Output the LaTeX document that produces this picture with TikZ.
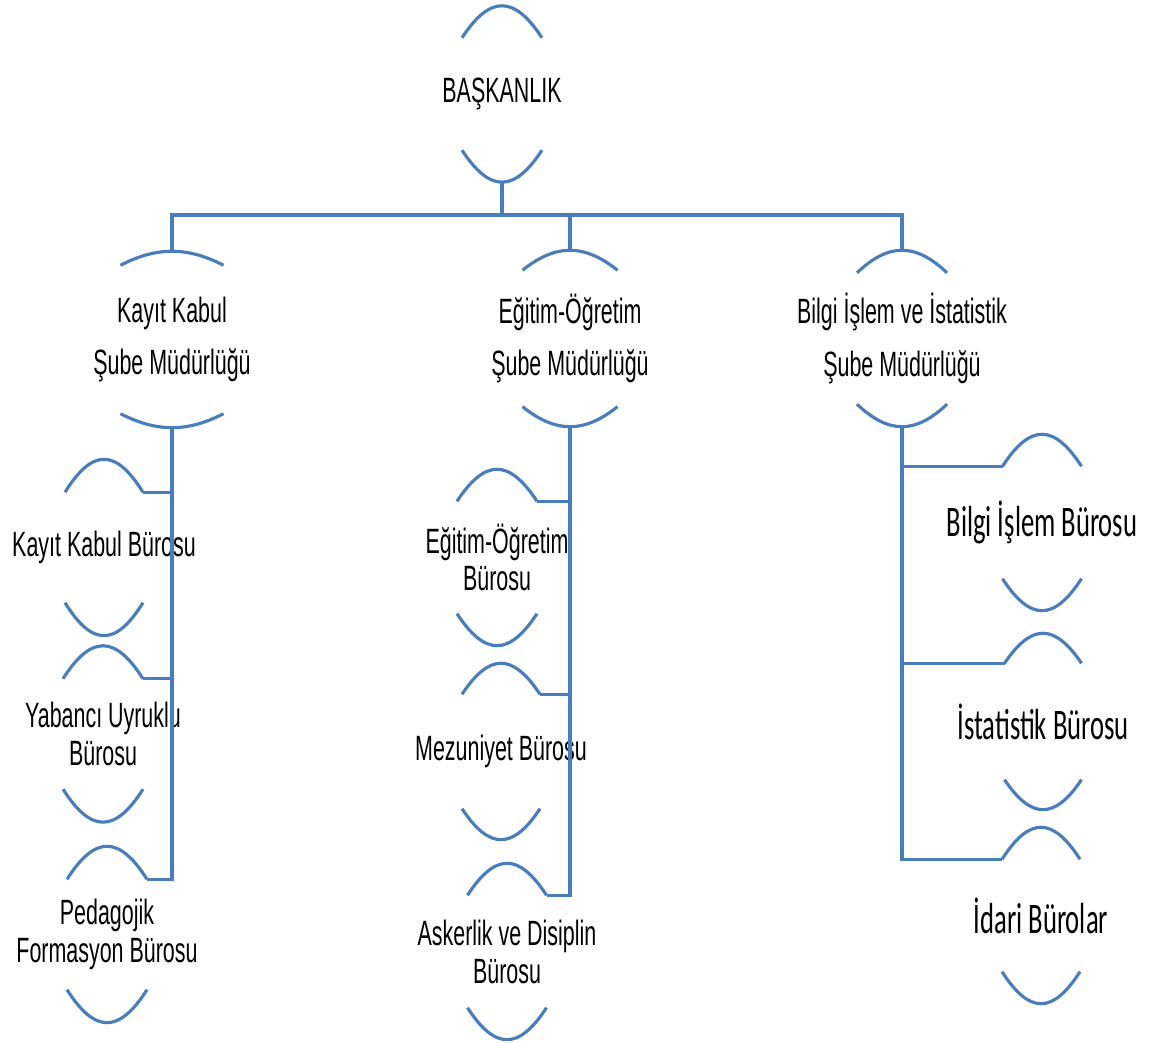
\documentclass[tikz,border=0pt]{standalone}
\usepackage{fontspec}
\usetikzlibrary{calc}
\newfontfamily\narrowfont[FakeStretch=0.61]{Liberation Sans}
\newfontfamily\calfont[FakeStretch=0.61]{Carlito}
\definecolor{orgblue}{RGB}{74,126,187}
\tikzset{
    orgline/.style={draw=orgblue, line width=0.9pt},
    unit/.style={minimum height=1.75cm, inner sep=0pt, align=center,
        font=\narrowfont\fontsize{10}{10.8}\selectfont},
    dept/.style={unit, font=\narrowfont\fontsize{10}{14.8}\selectfont},
    office/.style={unit, font=\calfont\fontsize{12.4}{14}\selectfont},
}
\begin{document}
\begin{tikzpicture}
    \useasboundingbox (0,0) rectangle (11.6,10.43);

    \node[unit] (bask) at (5.02,9.49) {BAŞKANLIK};

    \node[dept] (kayit) at (1.72,7.035) {Kayıt Kabul\\Şube Müdürlüğü};
    \node[dept] (egitim) at (5.70,7.045) {Eğitim-Öğretim\\Şube Müdürlüğü};
    \node[dept] (bilgi) at (9.02,7.045) {Bilgi İşlem ve İstatistik\\Şube Müdürlüğü};

    \node[unit] (kkb) at (1.04,4.955) {Kayıt Kabul Bürosu};
    \node[unit] (yub) at (1.03,3.09) {Yabancı Uyruklu\\Bürosu};
    \node[unit] (pfb) at (1.07,1.085) {Pedagojik\\Formasyon Bürosu};

    \node[unit] (eob) at (4.97,4.855) {Eğitim-Öğretim\\Bürosu};
    \node[unit] (mzb) at (5.01,2.915) {Mezuniyet Bürosu};
    \node[unit] (askb) at (5.07,0.915) {Askerlik ve Disiplin\\Bürosu};

    \node[office] (bib) at (10.42,5.205) {Bilgi İşlem Bürosu};
    \node[office] (isb) at (10.43,3.215) {İstatistik Bürosu};
    \node[office] (idb) at (10.41,1.275) {İdari Bürolar};

    % arcs above and below every box
    \foreach \n/\a/\h in {bask/0.40/0.32, kayit/0.515/0.14, egitim/0.475/0.20,
        bilgi/0.45/0.225, kkb/0.39/0.33, yub/0.40/0.33, pfb/0.40/0.33,
        eob/0.40/0.32, mzb/0.39/0.31, askb/0.395/0.32,
        bib/0.395/0.32, isb/0.385/0.30, idb/0.39/0.32} {
        \draw[orgline] ($(\n.north)+(-\a,-\h)$) coordinate (\n-tl)
            .. controls ($(\n.north)+(-0.3*\a,0.333*\h)$) and ($(\n.north)+(0.3*\a,0.333*\h)$)
            .. ($(\n.north)+(\a,-\h)$) coordinate (\n-tr);
        \draw[orgline] ($(\n.south)+(-\a,\h)$)
            .. controls ($(\n.south)+(-0.3*\a,-0.333*\h)$) and ($(\n.south)+(0.3*\a,-0.333*\h)$)
            .. ($(\n.south)+(\a,\h)$);
    }

    \coordinate (bar) at (5.02,8.28);
    \draw[orgline] (bask.south) -- (bar);
    \draw[orgline] (kayit.north) |- (bar) -| (bilgi.north);
    \draw[orgline] (egitim.north) -- (egitim.north |- bar);

    \draw[orgline] (kayit.south) |- (pfb-tr);
    \draw[orgline] (kkb-tr) -- (kkb-tr -| kayit.south);
    \draw[orgline] (yub-tr) -- (yub-tr -| kayit.south);

    \draw[orgline] (egitim.south) |- (askb-tr);
    \draw[orgline] (eob-tr) -- (eob-tr -| egitim.south);
    \draw[orgline] (mzb-tr) -- (mzb-tr -| egitim.south);

    \draw[orgline] (bilgi.south) |- (idb-tl);
    \draw[orgline] (bib-tl) -- (bib-tl -| bilgi.south);
    \draw[orgline] (isb-tl) -- (isb-tl -| bilgi.south);
\end{tikzpicture}
\end{document}
